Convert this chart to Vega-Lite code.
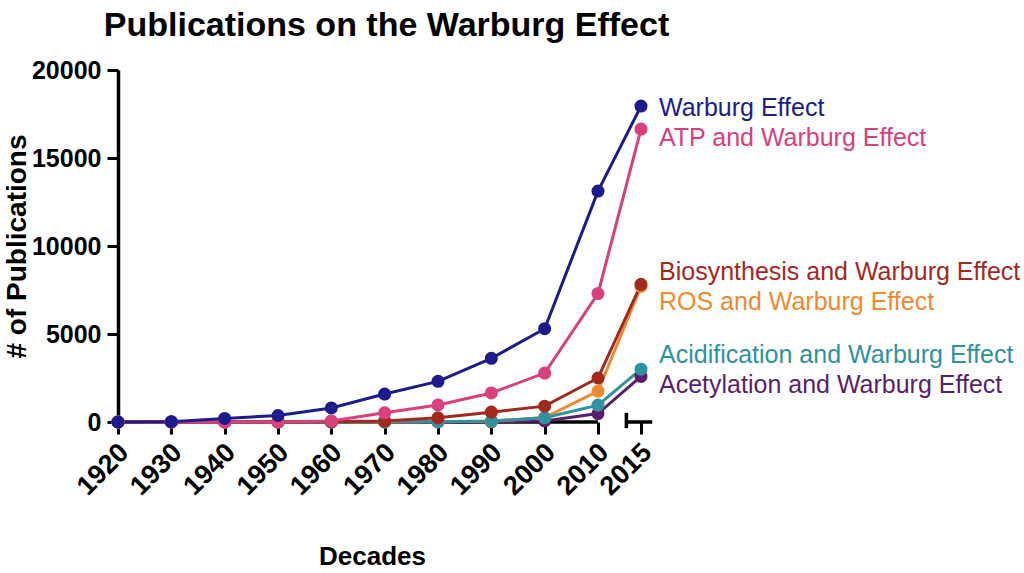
{
  "$schema": "https://vega.github.io/schema/vega-lite/v6.json",
  "autosize": "none",
  "width": 523,
  "height": 352,
  "padding": {"left": 118, "top": 70, "right": 383, "bottom": 151},
  "background": "white",
  "title": {
    "text": "Publications on the Warburg Effect",
    "anchor": "middle",
    "dx": 7,
    "offset": 15,
    "fontSize": 34,
    "font": "Liberation Sans",
    "fontWeight": "bold",
    "color": "black"
  },
  "datasets": {
    "pubs": [
      {"series": "Acetylation and Warburg Effect", "year": 1920, "count": 0},
      {"series": "Acetylation and Warburg Effect", "year": 1930, "count": 0},
      {"series": "Acetylation and Warburg Effect", "year": 1940, "count": 0},
      {"series": "Acetylation and Warburg Effect", "year": 1950, "count": 0},
      {"series": "Acetylation and Warburg Effect", "year": 1960, "count": 0},
      {"series": "Acetylation and Warburg Effect", "year": 1970, "count": 0},
      {"series": "Acetylation and Warburg Effect", "year": 1980, "count": 0},
      {"series": "Acetylation and Warburg Effect", "year": 1990, "count": 10},
      {"series": "Acetylation and Warburg Effect", "year": 2000, "count": 60},
      {"series": "Acetylation and Warburg Effect", "year": 2010, "count": 480},
      {"series": "Acetylation and Warburg Effect", "year": 2015, "count": 2590},
      {"series": "ROS and Warburg Effect", "year": 1920, "count": 0},
      {"series": "ROS and Warburg Effect", "year": 1930, "count": 0},
      {"series": "ROS and Warburg Effect", "year": 1940, "count": 0},
      {"series": "ROS and Warburg Effect", "year": 1950, "count": 0},
      {"series": "ROS and Warburg Effect", "year": 1960, "count": 0},
      {"series": "ROS and Warburg Effect", "year": 1970, "count": 0},
      {"series": "ROS and Warburg Effect", "year": 1980, "count": 10},
      {"series": "ROS and Warburg Effect", "year": 1990, "count": 40},
      {"series": "ROS and Warburg Effect", "year": 2000, "count": 250},
      {"series": "ROS and Warburg Effect", "year": 2010, "count": 1750},
      {"series": "ROS and Warburg Effect", "year": 2015, "count": 7700},
      {"series": "Acidification and Warburg Effect", "year": 1920, "count": 0},
      {"series": "Acidification and Warburg Effect", "year": 1930, "count": 0},
      {"series": "Acidification and Warburg Effect", "year": 1940, "count": 0},
      {"series": "Acidification and Warburg Effect", "year": 1950, "count": 0},
      {"series": "Acidification and Warburg Effect", "year": 1960, "count": 0},
      {"series": "Acidification and Warburg Effect", "year": 1970, "count": 10},
      {"series": "Acidification and Warburg Effect", "year": 1980, "count": 20},
      {"series": "Acidification and Warburg Effect", "year": 1990, "count": 60},
      {"series": "Acidification and Warburg Effect", "year": 2000, "count": 240},
      {"series": "Acidification and Warburg Effect", "year": 2010, "count": 960},
      {"series": "Acidification and Warburg Effect", "year": 2015, "count": 3000},
      {"series": "Biosynthesis and Warburg Effect", "year": 1920, "count": 0},
      {"series": "Biosynthesis and Warburg Effect", "year": 1930, "count": 0},
      {"series": "Biosynthesis and Warburg Effect", "year": 1940, "count": 0},
      {"series": "Biosynthesis and Warburg Effect", "year": 1950, "count": 0},
      {"series": "Biosynthesis and Warburg Effect", "year": 1960, "count": 20},
      {"series": "Biosynthesis and Warburg Effect", "year": 1970, "count": 60},
      {"series": "Biosynthesis and Warburg Effect", "year": 1980, "count": 240},
      {"series": "Biosynthesis and Warburg Effect", "year": 1990, "count": 560},
      {"series": "Biosynthesis and Warburg Effect", "year": 2000, "count": 900},
      {"series": "Biosynthesis and Warburg Effect", "year": 2010, "count": 2500},
      {"series": "Biosynthesis and Warburg Effect", "year": 2015, "count": 7820},
      {"series": "ATP and Warburg Effect", "year": 1920, "count": 0},
      {"series": "ATP and Warburg Effect", "year": 1930, "count": 0},
      {"series": "ATP and Warburg Effect", "year": 1940, "count": 0},
      {"series": "ATP and Warburg Effect", "year": 1950, "count": 0},
      {"series": "ATP and Warburg Effect", "year": 1960, "count": 60},
      {"series": "ATP and Warburg Effect", "year": 1970, "count": 520},
      {"series": "ATP and Warburg Effect", "year": 1980, "count": 970},
      {"series": "ATP and Warburg Effect", "year": 1990, "count": 1650},
      {"series": "ATP and Warburg Effect", "year": 2000, "count": 2780},
      {"series": "ATP and Warburg Effect", "year": 2010, "count": 7300},
      {"series": "ATP and Warburg Effect", "year": 2015, "count": 16640},
      {"series": "Warburg Effect", "year": 1920, "count": 0},
      {"series": "Warburg Effect", "year": 1930, "count": 20},
      {"series": "Warburg Effect", "year": 1940, "count": 200},
      {"series": "Warburg Effect", "year": 1950, "count": 370},
      {"series": "Warburg Effect", "year": 1960, "count": 800},
      {"series": "Warburg Effect", "year": 1970, "count": 1590},
      {"series": "Warburg Effect", "year": 1980, "count": 2310},
      {"series": "Warburg Effect", "year": 1990, "count": 3620},
      {"series": "Warburg Effect", "year": 2000, "count": 5300},
      {"series": "Warburg Effect", "year": 2010, "count": 13120},
      {"series": "Warburg Effect", "year": 2015, "count": 17950}
    ],
    "axisline": [
      {"from": 1920, "to": 2010, "level": 0},
      {"from": 2013.3, "to": 2016.3, "level": 0}
    ],
    "axisbreak": [
      {"year": 2013.3, "low": -350, "high": 520}
    ]
  },
  "data": {"name": "pubs"},
  "encoding": {
    "x": {
      "field": "year",
      "type": "quantitative",
      "scale": {"domain": [1920, 2010, 2015], "range": [0, 480, 523], "nice": false, "zero": false},
      "axis": {
        "values": [1920, 1930, 1940, 1950, 1960, 1970, 1980, 1990, 2000, 2010, 2015],
        "format": "d",
        "labelAngle": -45,
        "labelAlign": "right",
        "labelBaseline": "middle",
        "labelOverlap": false,
        "labelBound": false,
        "domain": false,
        "grid": false,
        "tickSize": 12,
        "tickWidth": 3,
        "tickColor": "black",
        "labelFont": "Liberation Sans",
        "labelFontSize": 27,
        "labelFontWeight": "bold",
        "labelColor": "black",
        "labelPadding": 14,
        "labelOffset": 6,
        "title": "Decades",
        "titleFont": "Liberation Sans",
        "titleFontSize": 26,
        "titleFontWeight": "bold",
        "titleColor": "black",
        "titlePadding": 44,
        "titleX": 254
      }
    },
    "y": {
      "field": "count",
      "type": "quantitative",
      "scale": {"domain": [0, 20000], "nice": false},
      "axis": {
        "values": [0, 5000, 10000, 15000, 20000],
        "format": "d",
        "domainWidth": 3.5,
        "domainColor": "black",
        "grid": false,
        "tickSize": 11,
        "tickWidth": 3,
        "tickColor": "black",
        "labelFont": "Liberation Sans",
        "labelFontSize": 25,
        "labelFontWeight": "bold",
        "labelColor": "black",
        "labelPadding": 6,
        "title": "# of Publications",
        "titleFont": "Liberation Sans",
        "titleFontSize": 28,
        "titleFontWeight": "bold",
        "titleColor": "black",
        "titlePadding": 0
      }
    },
    "color": {
      "field": "series",
      "type": "nominal",
      "scale": {
        "domain": ["Warburg Effect", "ATP and Warburg Effect", "Biosynthesis and Warburg Effect", "ROS and Warburg Effect", "Acidification and Warburg Effect", "Acetylation and Warburg Effect"],
        "range": ["#1c1c8c", "#d8407e", "#a3291f", "#ef8a30", "#2f929f", "#5a1f6c"]
      },
      "legend": null
    }
  },
  "layer": [
    {
      "data": {"name": "axisline"},
      "mark": {"type": "rule", "color": "black", "strokeWidth": 3.5, "clip": false},
      "encoding": {
        "x": {"field": "from", "type": "quantitative"},
        "x2": {"field": "to"},
        "y": {"field": "level", "type": "quantitative"},
        "color": {"value": "black"}
      }
    },
    {
      "data": {"name": "axisbreak"},
      "mark": {"type": "rule", "color": "black", "strokeWidth": 3.5, "clip": false},
      "encoding": {
        "x": {"field": "year", "type": "quantitative"},
        "y": {"field": "low", "type": "quantitative"},
        "y2": {"field": "high"},
        "color": {"value": "black"}
      }
    },
    {
      "mark": {"type": "line", "strokeWidth": 3, "clip": false}
    },
    {
      "mark": {"type": "point", "filled": true, "opacity": 1, "size": 170, "clip": false}
    },
    {
      "transform": [{"filter": "datum.year == 2015 && datum.series == 'Warburg Effect'"}],
      "mark": {"type": "text", "align": "left", "baseline": "middle", "dx": 18, "dy": 2, "fontSize": 25, "font": "Liberation Sans"},
      "encoding": {"text": {"field": "series"}}
    },
    {
      "transform": [{"filter": "datum.year == 2015 && datum.series == 'ATP and Warburg Effect'"}],
      "mark": {"type": "text", "align": "left", "baseline": "middle", "dx": 18, "dy": 9, "fontSize": 25, "font": "Liberation Sans"},
      "encoding": {"text": {"field": "series"}}
    },
    {
      "transform": [{"filter": "datum.year == 2015 && datum.series == 'Biosynthesis and Warburg Effect'"}],
      "mark": {"type": "text", "align": "left", "baseline": "middle", "dx": 18, "dy": -12, "fontSize": 25, "font": "Liberation Sans"},
      "encoding": {"text": {"field": "series"}}
    },
    {
      "transform": [{"filter": "datum.year == 2015 && datum.series == 'ROS and Warburg Effect'"}],
      "mark": {"type": "text", "align": "left", "baseline": "middle", "dx": 18, "dy": 16, "fontSize": 25, "font": "Liberation Sans"},
      "encoding": {"text": {"field": "series"}}
    },
    {
      "transform": [{"filter": "datum.year == 2015 && datum.series == 'Acidification and Warburg Effect'"}],
      "mark": {"type": "text", "align": "left", "baseline": "middle", "dx": 18, "dy": -14, "fontSize": 25, "font": "Liberation Sans"},
      "encoding": {"text": {"field": "series"}}
    },
    {
      "transform": [{"filter": "datum.year == 2015 && datum.series == 'Acetylation and Warburg Effect'"}],
      "mark": {"type": "text", "align": "left", "baseline": "middle", "dx": 18, "dy": 9, "fontSize": 25, "font": "Liberation Sans"},
      "encoding": {"text": {"field": "series"}}
    }
  ],
  "config": {
    "view": {"stroke": null}
  }
}
